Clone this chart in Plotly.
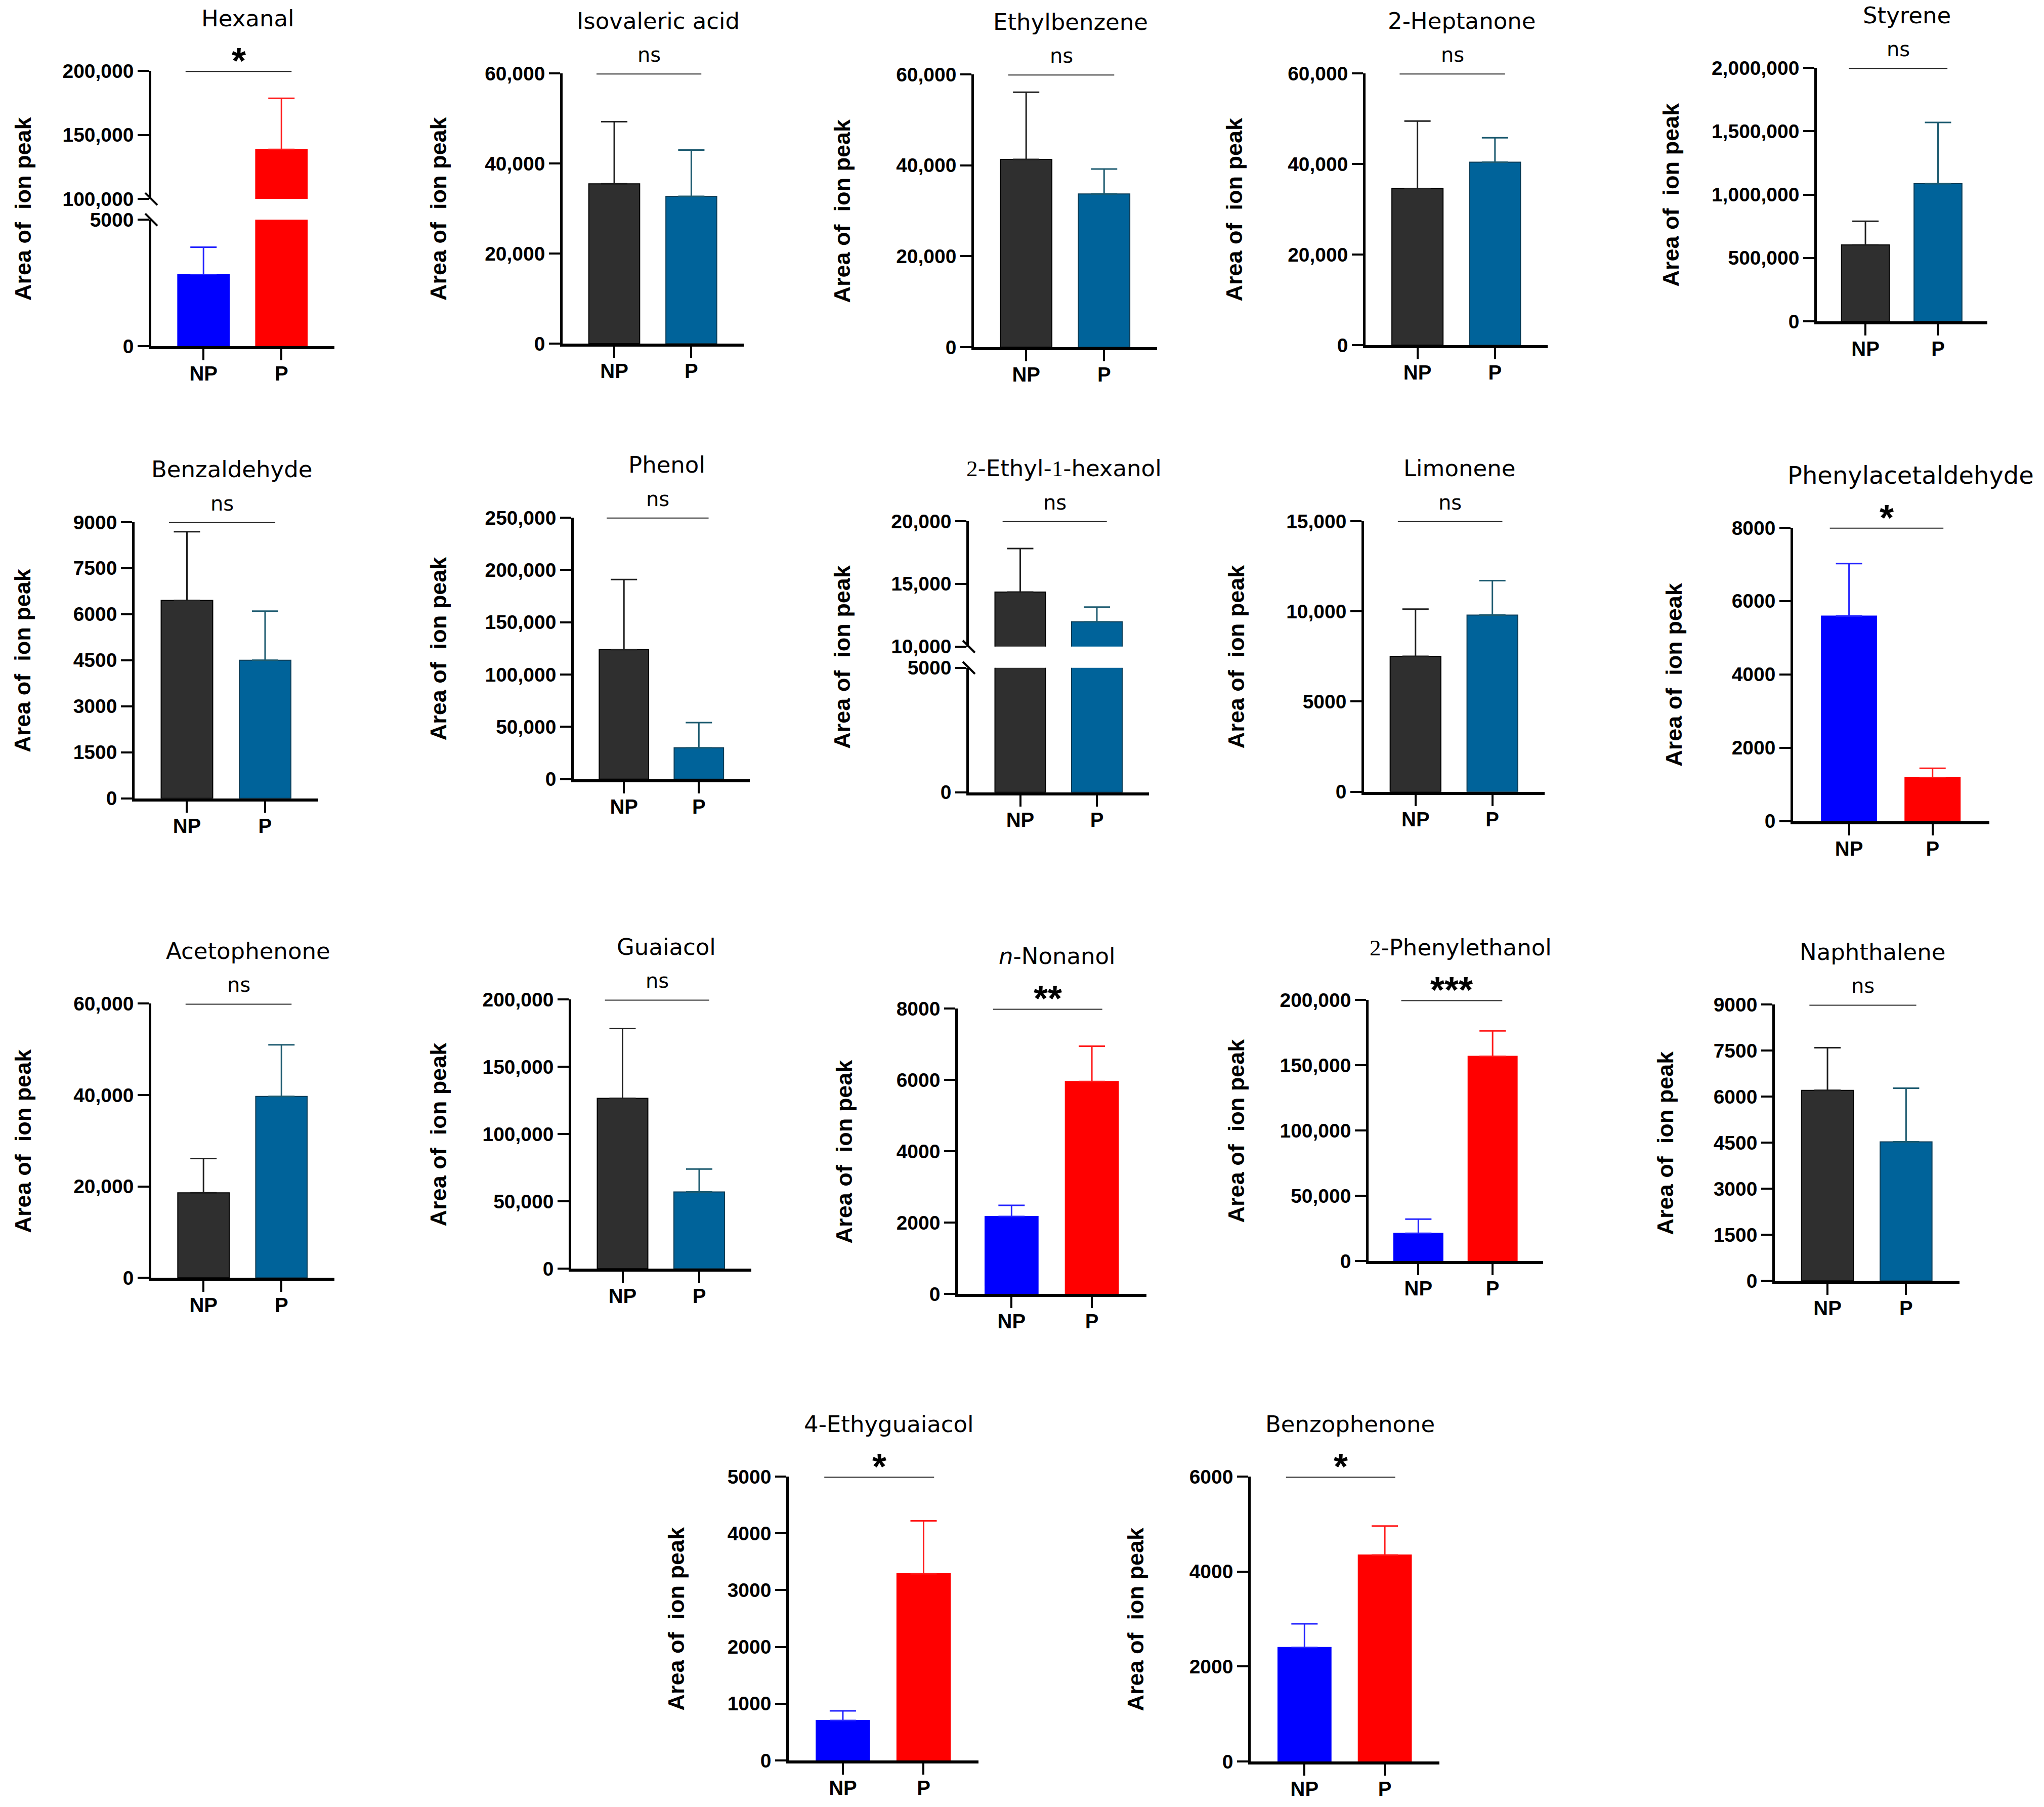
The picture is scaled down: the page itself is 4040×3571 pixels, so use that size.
import plotly.graph_objects as go

W, H = 4040, 3571

# ---------------- data ----------------
compounds = ["Hexanal", "Isovaleric acid", "Ethylbenzene", "2-Heptanone", "Styrene",
             "Benzaldehyde", "Phenol", "2-Ethyl-1-hexanol", "Limonene", "Phenylacetaldehyde",
             "Acetophenone", "Guaiacol", "n-Nonanol", "2-Phenylethanol", "Naphthalene",
             "4-Ethyguaiacol", "Benzophenone"]
title_text = ["Hexanal", "Isovaleric acid", "Ethylbenzene", "2-Heptanone", "Styrene",
              "Benzaldehyde", "Phenol",
              "<span style=\"font-family:'Liberation Serif'\">2</span>-Ethyl-<span style=\"font-family:'Liberation Serif'\">1</span>-hexanol",
              "Limonene", "Phenylacetaldehyde",
              "Acetophenone", "Guaiacol", "<i>n</i>-Nonanol",
              "<span style=\"font-family:'Liberation Serif'\">2</span>-Phenylethanol", "Naphthalene",
              "4-Ethyguaiacol", "Benzophenone"]
groups = ["NP", "P"]
np_mean = [2830, 35500, 41300, 34600, 603000, 6450, 123800, 14350, 7510, 5590,
           18600, 126700, 2175, 21300, 6210, 704, 2400]
np_sd = [1080, 13800, 14800, 14900, 187000, 2240, 67000, 3470, 2610, 1430,
         7500, 51900, 312, 10900, 1390, 169, 500]
p_mean = [138700, 32700, 33700, 40400, 1086000, 4500, 30000, 11980, 9790, 1190,
          39700, 57100, 5960, 157000, 4530, 3290, 4350]
p_sd = [39900, 10300, 5500, 5400, 483000, 1600, 24000, 1170, 1910, 250,
        11300, 17000, 990, 19400, 1750, 930, 610]
significance = ["*", "ns", "ns", "ns", "ns", "ns", "ns", "ns", "ns", "*",
                "ns", "ns", "**", "***", "ns", "*", "*"]
color_scheme = ["bright", "muted", "muted", "muted", "muted", "muted", "muted", "muted", "muted", "bright",
                "muted", "muted", "bright", "bright", "muted", "bright", "bright"]
y_max = [200000, 60000, 60000, 60000, 2000000, 9000, 250000, 20000, 15000, 8000,
         60000, 200000, 8000, 200000, 9000, 5000, 6000]
y_step = [50000, 20000, 20000, 20000, 500000, 1500, 50000, 5000, 5000, 2000,
          20000, 50000, 2000, 50000, 1500, 1000, 2000]
# broken axes: panel index -> (lower segment max, upper segment min)
broken = {0: (5000, 100000), 7: (5000, 10000)}
y_title = "Area of\u00a0 ion peak"

# ---------------- layout geometry (pixels) ----------------
# [y-axis x, x-axis end, top y, zero y, y-title x]
geom = [
    [299, 661, 140, 684, 45], [1112, 1470, 145, 679, 866], [1925, 2287, 147, 686, 1665],
    [2699, 3059, 145, 682, 2440], [3591, 3928, 134, 635, 3303],
    [266, 629, 1032, 1578, 45], [1134, 1482, 1023, 1540, 866], [1915, 2271, 1030, 1566, 1665],
    [2696, 3053, 1030, 1565, 2443], [3544, 3932, 1043, 1623, 3309],
    [299, 661, 1984, 2526, 45], [1129, 1485, 1976, 2508, 866], [1893, 2266, 1994, 2558, 1668],
    [2705, 3050, 1977, 2493, 2443], [3508, 3873, 1986, 2532, 3291],
    [1559, 1934, 2919, 3480, 1337], [2472, 2845, 2919, 3482, 2245],
]
title_size = [45] * 17
title_size[9] = 48
title_x = [0.57] * 17
title_x[9] = 0.74
# broken: (lower segment top px, upper segment bottom px)
break_px = {0: (434, 393), 7: (1320, 1278)}

styles = {
    "muted": [dict(fill="#2f2f2f", line="#000000", err="#1e1e1e"),
              dict(fill="#00639a", line="#0e3d56", err="#1d5b70")],
    "bright": [dict(fill="#0000ff", line="#0000ff", err="#2222ff"),
               dict(fill="#ff0000", line="#ff0000", err="#ff1a1a")],
}

FONT = "Liberation Sans, Arial, sans-serif"
TFONT = "DejaVu Sans, Liberation Sans, sans-serif"


def py(y):
    """vertical pixel position -> paper fraction (small correction for page rendering)"""
    yc = y * 1.0118 - 21.0
    return 1 - yc / H


def fmt(v):
    return f"{v:,}" if v >= 10000 else str(v)


fig = go.Figure()
lay = {}
shapes = []
annotations = []
ax = 0


def aname(kind, n):
    return kind + ("" if n == 1 else str(n))


for i, name in enumerate(compounds):
    x0, x1, top, zero, tx = geom[i]
    ymax, step = y_max[i], y_step[i]
    if i in broken:
        low_max, up_min = broken[i]
        ltop, ubot = break_px[i]
        up_ticks = list(range(up_min, ymax + 1, step))
        segs = [(0, low_max, zero, ltop, [0, low_max]),
                (up_min, ymax, ubot, top, up_ticks)]
    else:
        segs = [(0, ymax, zero, top, list(range(0, ymax + 1, step)))]

    top_ax = None
    for k, (lo, hi, pb, pt, ticks) in enumerate(segs):
        ax += 1
        show_x = (k == 0)
        lay[aname("xaxis", ax)] = dict(
            domain=[x0 / W, x1 / W], anchor=aname("y", ax), type="category",
            categoryorder="array", categoryarray=groups, range=[-0.67, 1.68],
            showline=show_x, linewidth=6, linecolor="black",
            ticks="outside" if show_x else "", ticklen=22, tickwidth=4, tickcolor="black",
            ticklabelstandoff=-8,
            showticklabels=show_x, tickfont=dict(family=FONT, size=40, color="black", weight="bold"),
            showgrid=False, zeroline=False, fixedrange=True)
        lay[aname("yaxis", ax)] = dict(
            domain=[py(pb), py(pt)], anchor=aname("x", ax), range=[lo, hi],
            tickmode="array", tickvals=ticks, ticktext=[fmt(v) for v in ticks],
            showline=True, linewidth=4.5, linecolor="black",
            ticks="outside", ticklen=22, tickwidth=4, tickcolor="black",
            tickfont=dict(family=FONT, size=39, color="black", weight="bold"),
            showgrid=False, zeroline=False, fixedrange=True)
        sty = styles[color_scheme[i]]
        for g, (m, sd) in enumerate([(np_mean[i], np_sd[i]), (p_mean[i], p_sd[i])]):
            fig.add_trace(go.Bar(
                x=[groups[g]], y=[m], width=0.66,
                marker=dict(color=sty[g]["fill"], line=dict(color=sty[g]["line"], width=2)),
                error_y=dict(type="data", array=[sd], arrayminus=[0], symmetric=False,
                             color=sty[g]["err"], thickness=3, width=26),
                xaxis=aname("x", ax), yaxis=aname("y", ax), showlegend=False, hoverinfo="skip"))
        top_ax = ax

    # significance bar and label
    shapes.append(dict(type="line", xref=aname("x", top_ax), yref=aname("y", top_ax),
                       x0=-0.23, x1=1.13, y0=ymax, y1=ymax,
                       line=dict(color="#262626", width=4)))
    is_star = significance[i] != "ns"
    if is_star:
        annotations.append(dict(
            text=significance[i], xref=aname("x", top_ax), yref=aname("y", top_ax),
            x=0.45, y=ymax, yanchor="middle", xanchor="center", showarrow=False,
            yshift=20, font=dict(family=FONT, size=72, color="black", weight="bold")))
    else:
        annotations.append(dict(
            text=significance[i], xref=aname("x", top_ax), yref=aname("y", top_ax),
            x=0.45, y=ymax, yanchor="bottom", xanchor="center", showarrow=False,
            yshift=12, font=dict(family=TFONT, size=40, color="black")))
    # panel title
    annotations.append(dict(
        text=title_text[i], xref=aname("x", top_ax), yref="paper",
        x=title_x[i], y=py(top - 104), xanchor="center", yanchor="middle", showarrow=False,
        font=dict(family=TFONT, size=title_size[i], color="black")))
    # y-axis title
    annotations.append(dict(
        text=y_title, xref="paper", yref="paper", x=tx / W, y=py((top + zero) / 2),
        xanchor="center", yanchor="middle", textangle=-90, showarrow=False,
        font=dict(family=FONT, size=45, color="black", weight="bold")))
    # break marks
    if i in break_px:
        for yb in break_px[i]:
            shapes.append(dict(type="line", xref="paper", yref="paper",
                               x0=(x0 - 12) / W, x1=(x0 + 12) / W,
                               y0=py(yb - 12), y1=py(yb + 12),
                               line=dict(color="black", width=4)))

fig.update_layout(
    width=W, height=H, margin=dict(l=0, r=0, t=0, b=0),
    paper_bgcolor="white", plot_bgcolor="white", barmode="overlay",
    showlegend=False, shapes=shapes, annotations=annotations,
    font=dict(family=FONT, color="black"), **lay)

fig.write_html(
    "out.html", config={"displayModeBar": False},
    post_script=("document.documentElement.style.margin='0';"
                 "document.documentElement.style.overflow='hidden';"
                 "document.body.style.margin='0';document.body.style.padding='0';"
                 "document.body.style.overflow='hidden';"))
